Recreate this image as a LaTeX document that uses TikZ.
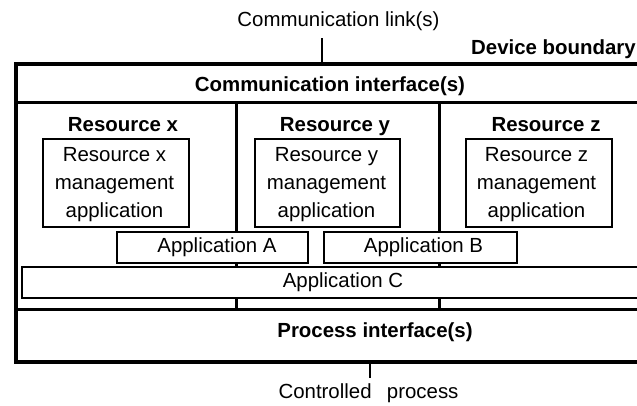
\documentclass[tikz,border=0pt]{standalone}
\usepackage{fontspec}
\setmainfont{Liberation Sans}
\begin{document}
\begin{tikzpicture}[x=1bp,y=-1bp,
  lbl/.style={font=\fontsize{20.5}{28}\selectfont, inner sep=0pt, anchor=base},
  blbl/.style={font=\fontsize{20.5}{28}\selectfont\bfseries, inner sep=0pt, anchor=base},
  mtext/.style={font=\fontsize{20.5}{28}\selectfont, inner sep=0pt, align=center},
  boundary/.style={line width=4bp},
  divider/.style={line width=3bp},
  thinbox/.style={draw, line width=1.4bp, fill=white, inner sep=0pt},
  wire/.style={line width=1.4bp}]
\useasboundingbox (0,0) rectangle (637,405);
\clip (0,0) rectangle (637,405);
% labels outside the device
\node[lbl] (link) at (338.5,26) {Communication link(s)};
\node[blbl, anchor=base east] (devb) at (636,54) {Device boundary};
\coordinate (linktop) at (322,38);
% device boundary
\node[draw, boundary, minimum width=700bp, minimum height=298bp, inner sep=0pt, anchor=north west] (device) at (14,62) {};
\draw[wire] (linktop) -- (device.north -| linktop);
% horizontal dividers
\coordinate (cil) at (14,102);
\coordinate (pil) at (14,309);
\draw[divider] (cil) -- (cil -| device.east);
\draw[divider] (pil) -- (pil -| device.east);
% columns
\draw[divider] (236,102) -- (236,309);
\draw[divider] (439,102) -- (439,309);
\node[blbl] (ci) at (330,91) {Communication interface(s)};
\node[blbl] (pi) at (375,337) {Process interface(s)};
% resources
\node[blbl] (rx) at (123,131) {Resource x};
\node[blbl] (ry) at (335,131) {Resource y};
\node[blbl] (rz) at (546,131) {Resource z};
\node[thinbox, minimum width=146bp, minimum height=88bp] (mx) at (116,183) {};
\node[thinbox, minimum width=145bp, minimum height=88bp] (my) at (327.5,183) {};
\node[thinbox, minimum width=146bp, minimum height=88bp] (mz) at (539,183) {};
\node[mtext] (mxt) at (114.5,184.6) {Resource x\\management\\application};
\node[mtext] (myt) at (326.5,184.6) {Resource y\\management\\application};
\node[mtext] (mzt) at (536.5,184.6) {Resource z\\management\\application};
% applications
\node[thinbox, minimum width=191bp, minimum height=31bp] (appa) at (212.5,247.5) {};
\node[thinbox, minimum width=193bp, minimum height=31bp] (appb) at (420.5,247.5) {};
\node[thinbox, minimum width=638bp, minimum height=31bp] (appc) at (341,282.5) {};
\node[lbl] (appat) at (217,252) {Application A};
\node[lbl] (appbt) at (423.5,252) {Application B};
\node[lbl] (appct) at (343,287) {Application C};
% controlled process
\node[lbl] (cp) at (368.5,398) {Controlled\hspace{0.75em}process};
\coordinate (cptop) at (370,378);
\draw[wire] (device.south -| cptop) -- (cptop);
\end{tikzpicture}
\end{document}
